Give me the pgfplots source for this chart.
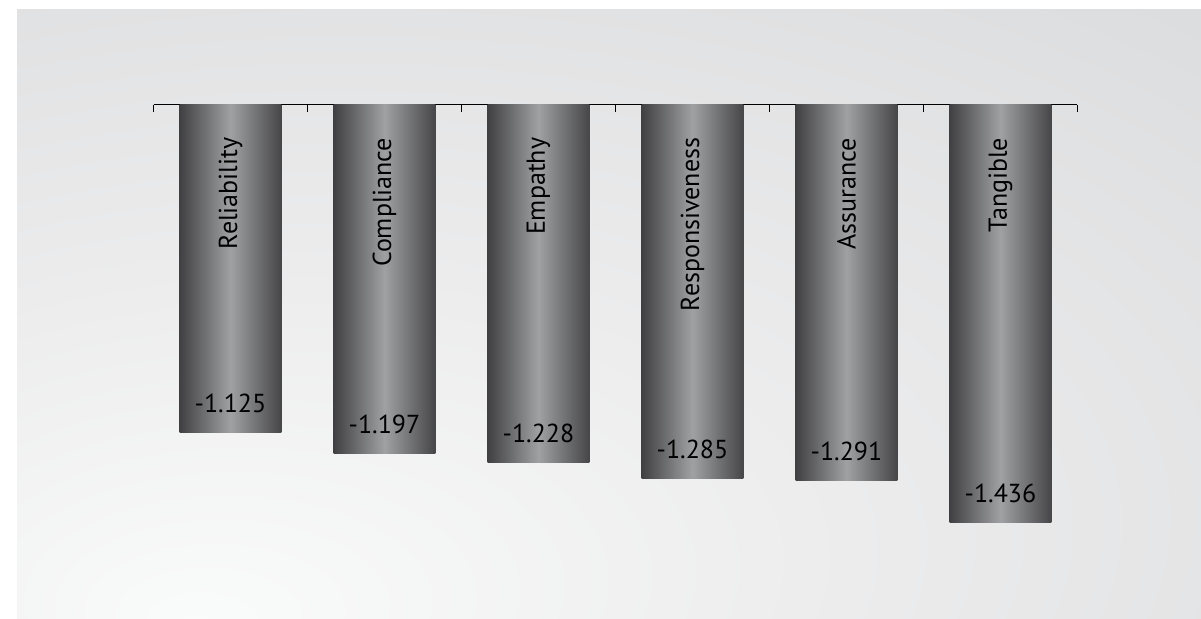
\documentclass[border=0pt]{standalone}
\usepackage{pgfplots}
\pgfplotsset{compat=1.18}
\usepackage{fontspec}
\setmainfont{PT Sans}
\definecolor{bgA}{HTML}{FAFBFB}
\definecolor{bgB}{HTML}{EDEDEE}
\definecolor{bgC}{HTML}{DCDDDE}
\definecolor{bgD}{HTML}{D1D2D4}
\definecolor{barL}{HTML}{404042}
\definecolor{barM}{HTML}{A0A1A3}
\definecolor{barR}{HTML}{464648}
\pgfdeclareradialshading{bgshade}{\pgfpoint{-17.6bp}{-25.8bp}}{color(0bp)=(bgA); color(22bp)=(bgB); color(50bp)=(bgC); color(80bp)=(bgD); color(100bp)=(bgD)}
\begin{document}
\begin{tikzpicture}
\fill[white] (0,0) rectangle (600.5pt,309pt);
\shade[shading=bgshade] (8.5pt,0) rectangle (600.5pt,304.5pt);
\begin{axis}[
  at={(76.75pt,9.15pt)}, anchor=south west,
  scale only axis, width=462pt, height=247.6pt,
  xmin=-0.5, xmax=5.5, ymin=-1.7, ymax=0,
  axis x line*=top, axis y line=none,
  x axis line style={-, line width=0.9pt, black},
  xtick={-0.5,0.5,1.5,2.5,3.5,4.5,5.5}, xticklabels={},
  tick align=inside, major tick length=3.5pt,
  tick style={black, line width=0.7pt},
  ytick=\empty,
  clip=false,
  barstyle/.style={draw=none, mark=none, left color=barL, right color=barR, middle color=barM},
]
% bars: half width 0.331 around each category, value = bar end
\addplot[barstyle] coordinates {(-0.331,-1.125) (0.331,-1.125)} \closedcycle;
\addplot[barstyle] coordinates {(0.669,-1.197) (1.331,-1.197)} \closedcycle;
\addplot[barstyle] coordinates {(1.669,-1.228) (2.331,-1.228)} \closedcycle;
\addplot[barstyle] coordinates {(2.669,-1.285) (3.331,-1.285)} \closedcycle;
\addplot[barstyle] coordinates {(3.669,-1.291) (4.331,-1.291)} \closedcycle;
\addplot[barstyle] coordinates {(4.669,-1.436) (5.331,-1.436)} \closedcycle;
% value labels
\addplot[draw=none, mark=none,
  nodes near coords, point meta=explicit symbolic,
  every node near coord/.style={anchor=base, yshift=10pt, text=black, font=\fontsize{13}{15}\selectfont}]
  coordinates {(0,-1.125)[-1.125] (1,-1.197)[-1.197] (2,-1.228)[-1.228] (3,-1.285)[-1.285] (4,-1.291)[-1.291] (5,-1.436)[-1.436]};
% category labels
\addplot[draw=none, mark=none,
  nodes near coords, point meta=explicit symbolic,
  every node near coord/.style={anchor=east, rotate=90, inner sep=0pt, text=black, font=\fontsize{13}{15}\selectfont}]
  coordinates {(0,-0.113)[Reliability] (1,-0.113)[Compliance] (2,-0.113)[Empathy] (3,-0.113)[Responsiveness] (4,-0.113)[Assurance] (5,-0.113)[Tangible]};
\end{axis}
\end{tikzpicture}
\end{document}
